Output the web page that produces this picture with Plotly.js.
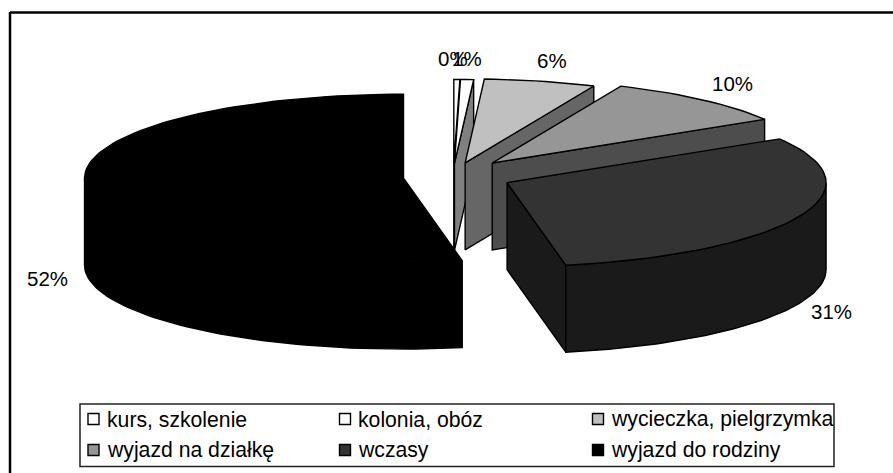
<!DOCTYPE html>
<html><head><meta charset="utf-8">
<script src="https://cdn.plot.ly/plotly-3.0.1.min.js"></script>
<style>html,body{margin:0;padding:0;background:#fff}</style>
</head><body><div id="chart" style="width:893px;height:473px"></div>
<script>
const categories = ["kurs, szkolenie","kolonia, obóz","wycieczka, pielgrzymka","wyjazd na działkę","wczasy","wyjazd do rodziny"];
const values = [0.3,0.65,5.6,9.6,30.5,52.49];
const percentLabels = ["0%","1%","6%","10%","31%","52%"];
const topColors = ["#ffffff","#ffffff","#c0c0c0","#969696","#333333","#000000"];
const sideColors = ["#808080","#808080","#666666","#4d4d4d","#1a1a1a","#000000"];
const nudgeX = [-3,-4,-4,0,1,1.5];
const nudgeY = [1,1,0,-3,0,0];
const labelX = [453,467,552,732,831,47];
const labelY = [58,58,60,83,311,278];
const legendX = [93.5,345,598,93.5,345,598];
const legendTextX = [105,356,609,105,356,609];
const legendY = [419,419,419,450,450,450];

const cx=456.3, cy=176.8, rx=319, ry=84, depth=87, explode=54.5;
const total = values.reduce((a,b)=>a+b,0);
const rad = d=>d*Math.PI/180;
const traces=[];
function face(xs,ys,fill){
  traces.push({type:'scatter',mode:'lines',x:xs.concat(xs[0]),y:ys.concat(ys[0]),fill:'toself',fillcolor:fill,
    line:{color:'#000',width:1.4},hoverinfo:'skip',showlegend:false});
}
let cum=0;
values.forEach((v,i)=>{
  const a0=cum/total*360, a1=(cum+v)/total*360; cum+=v;
  const mid=(a0+a1)/2;
  const ax=cx+explode*Math.sin(rad(mid))+nudgeX[i], ay=cy-explode*Math.cos(rad(mid))*ry/rx+nudgeY[i];
  const P=a=>[ax+rx*Math.sin(rad(a)), ay-ry*Math.cos(rad(a))];
  if(Math.cos(rad(a1+90))<0){const p=P(a1);face([ax,p[0],p[0],ax],[ay,p[1],p[1]+depth,ay+depth],sideColors[i]);}
  if(Math.cos(rad(a0-90))<0){const p=P(a0);face([ax,p[0],p[0],ax],[ay,p[1],p[1]+depth,ay+depth],sideColors[i]);}
  const s=Math.max(a0,90), e=Math.min(a1,270);
  if(e>s){
    const xs=[],ys=[],xb=[],yb=[];
    for(let k=0;k<=60;k++){const p=P(s+(e-s)*k/60);xs.push(p[0]);ys.push(p[1]);xb.unshift(p[0]);yb.unshift(p[1]+depth);}
    face(xs.concat(xb),ys.concat(yb),sideColors[i]);
  }
  const n=Math.max(2,Math.ceil((a1-a0)/2));
  const xs=[ax],ys=[ay];
  for(let k=0;k<=n;k++){const p=P(a0+(a1-a0)*k/n);xs.push(p[0]);ys.push(p[1]);}
  face(xs,ys,topColors[i]);
});
traces.push({type:'scatter',mode:'markers',x:legendX,y:legendY,hoverinfo:'skip',showlegend:false,
  marker:{symbol:'square',size:11,color:topColors,line:{color:'#000',width:1.4}}});
const labelFont={family:'Liberation Sans, Arial, sans-serif',size:20.5,color:'#000'};
const legendFont={family:'Liberation Sans, Arial, sans-serif',size:21.2,color:'#000'};
const annotations=[];
percentLabels.forEach((t,i)=>annotations.push({x:labelX[i],y:labelY[i],xref:'x',yref:'y',text:t,showarrow:false,font:labelFont,xanchor:'center',yanchor:'middle'}));
categories.forEach((t,i)=>annotations.push({x:legendTextX[i],y:legendY[i],xref:'x',yref:'y',text:t,showarrow:false,font:legendFont,xanchor:'left',yanchor:'middle'}));
const layout={width:893,height:473,margin:{l:0,r:0,t:0,b:0},paper_bgcolor:'#fff',plot_bgcolor:'#fff',showlegend:false,
  xaxis:{range:[0,893],visible:false,fixedrange:true},
  yaxis:{range:[473,0],visible:false,fixedrange:true},
  shapes:[
    {type:'line',xref:'x',yref:'y',x0:10,y0:12.5,x1:893,y1:12.5,line:{color:'#000',width:2.5},layer:'below'},
    {type:'line',xref:'x',yref:'y',x0:10,y0:12,x1:10,y1:473,line:{color:'#000',width:2.5},layer:'below'},
    {type:'rect',xref:'x',yref:'y',x0:80,y0:404,x1:834,y1:466.5,line:{color:'#222',width:1.5},fillcolor:'#fff',layer:'below'}
  ],annotations};
Plotly.newPlot('chart',traces,layout,{displayModeBar:false,staticPlot:true});
</script></body></html>
